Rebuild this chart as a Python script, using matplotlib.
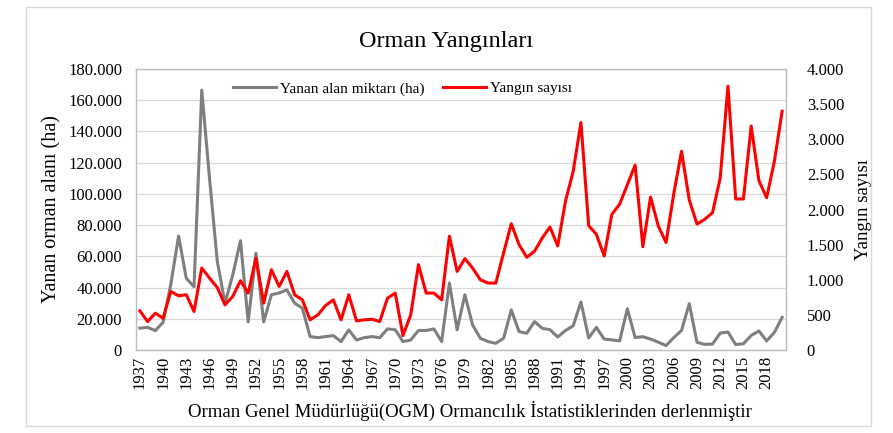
import matplotlib
matplotlib.use("Agg")
import matplotlib.pyplot as plt
from matplotlib.ticker import FuncFormatter, MultipleLocator
from matplotlib.lines import Line2D
from matplotlib.patches import Rectangle

# veriler (grafikten okunan yaklaşık değerler)
years = list(range(1937, 2021))
burned_area = [
    14000, 14500, 12400, 17800, 42000, 73000, 46000, 40500, 166500, 110000,
    57000, 30000, 48000, 70000, 18000, 62000, 18000, 35400, 36500, 38500,
    30000, 26800, 8600, 7900, 8600, 9200, 5400, 12900, 6400, 7900,
    8600, 7900, 13500, 13000, 5400, 6400, 12500, 12500, 13500, 5400,
    42900, 12900, 35400, 16000, 7500, 5400, 4300, 7500, 25700, 11800,
    10700, 18200, 13900, 13000, 8300, 12500, 15500, 30800, 7700, 14500,
    7000, 6500, 5800, 26400, 8000, 8500, 7000, 5000, 2800, 8000,
    12500, 29700, 4900, 3600, 3800, 10800, 11500, 3500, 4000, 9300,
    12200, 5800, 11300, 20900,
]
fire_count = [
    557, 405, 524, 452, 834, 772, 786, 548, 1167, 1024,
    891, 643, 762, 986, 810, 1310, 667, 1143, 905, 1119,
    786, 714, 429, 500, 633, 714, 429, 786, 414, 429,
    438, 405, 738, 810, 205, 500, 1215, 810, 810, 714,
    1620, 1119, 1300, 1167, 1000, 953, 953, 1381, 1796, 1500,
    1319, 1405, 1595, 1750, 1481, 2117, 2545, 3239, 1770, 1645,
    1339, 1932, 2075, 2353, 2631, 1471, 2177, 1762, 1530, 2227,
    2829, 2135, 1793, 1861, 1954, 2450, 3755, 2149, 2150, 3188,
    2411, 2167, 2688, 3399,
]
tick_years = years[::3]

plt.rcParams["font.family"] = ["Liberation Serif", "DejaVu Serif"]

GRAY = "#7f7f7f"
RED = "#ff0000"

fig = plt.figure(figsize=(8.93, 4.33), dpi=100)
ax = fig.add_axes([136 / 893, 1 - 350 / 433, 650 / 893, 281 / 433])
ax2 = ax.twinx()

x = list(range(len(years)))
ax.plot(x, burned_area, color=GRAY, lw=2.2, zorder=3)
ax2.plot(x, fire_count, color=RED, lw=2.2, zorder=3)

ax.set_xlim(-0.5, len(years) - 0.5)
ax.set_ylim(0, 180000)
ax2.set_ylim(0, 4000)
ax.yaxis.set_major_locator(MultipleLocator(20000))
ax2.yaxis.set_major_locator(MultipleLocator(500))

fmt = FuncFormatter(lambda v, p: f"{int(v):,}".replace(",", "."))
ax.yaxis.set_major_formatter(fmt)
ax2.yaxis.set_major_formatter(fmt)

ax.set_xticks(x[::3])
ax.set_xticklabels([str(y) for y in tick_years], rotation=90, fontsize=12)
ax.tick_params(axis="x", length=0, pad=4)
ax.tick_params(axis="y", length=0, pad=10, labelsize=12)
ax2.tick_params(axis="y", length=0, pad=15, labelsize=12)

ax.grid(axis="y", color="#d9d9d9", lw=0.9)
ax.set_axisbelow(True)
for a in (ax, ax2):
    for s in a.spines.values():
        s.set_color("#bfbfbf")
        s.set_linewidth(0.9)

ax.set_ylabel("Yanan orman alanı (ha)", fontsize=14.5, labelpad=5)
ax2.set_ylabel("Yangın sayısı", fontsize=13.5, labelpad=8)

fig.text(0.5, 1 - 42 / 433, "Orman Yangınları", ha="center", va="center", fontsize=17.5)
fig.text(470 / 893, 1 - 411 / 433,
         "Orman Genel Müdürlüğü(OGM) Ormancılık İstatistiklerinden derlenmiştir",
         ha="center", va="center", fontsize=13.5)

handles = [Line2D([], [], color=GRAY, lw=2.2), Line2D([], [], color=RED, lw=2.2)]
ax.legend(handles, ["Yanan alan miktarı (ha)", "Yangın sayısı"], loc="center",
          bbox_to_anchor=(0.41, 0.93), ncol=2, frameon=False, fontsize=11,
          handlelength=2.8, columnspacing=1.2, handletextpad=0.3)

fig.patches.append(Rectangle((26 / 893, 7 / 433), 845 / 893, 419 / 433,
                             transform=fig.transFigure, fill=False,
                             edgecolor="#d9d9d9", lw=1))

fig.savefig("out.png", dpi=100)
